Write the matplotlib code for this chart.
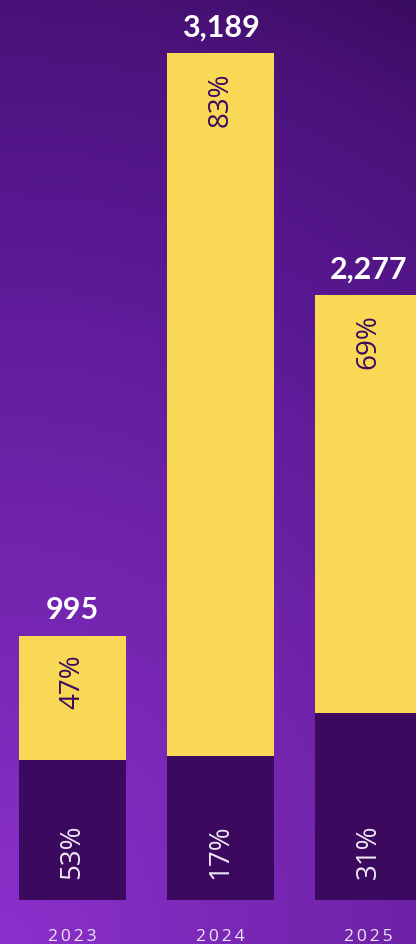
import numpy as np
import matplotlib.pyplot as plt
from matplotlib.colors import LinearSegmentedColormap

years = ["2023", "2024", "2025"]
totals = [995, 3189, 2277]
low_pct = [53, 17, 31]
high_pct = [47, 83, 69]

W, H = 416, 945
fig = plt.figure(figsize=(W / 100, H / 100), dpi=100)

# background gradient, light at bottom-left, dark at top-right
bg = fig.add_axes([0, 0, 1, 1])
xx, yy = np.meshgrid(np.linspace(0, 1, 200), np.linspace(0, 1, 400))
d = np.sqrt((xx * 0.5) ** 2 + yy ** 2)
t = np.clip(d / 1.12, 0, 1)
cmap = LinearSegmentedColormap.from_list(
    "bg", [(0, "#8c30cc"), (0.45, "#6c22a6"), (0.67, "#5a1994"),
           (0.89, "#4a1278"), (1, "#3a0c62")])
bg.imshow(t, cmap=cmap, origin="lower", extent=[0, 1, 0, 1], aspect="auto")
bg.axis("off")

dark = "#3b0a5f"
yellow = "#f8d854"
light = "#efe6f5"
bold_fam = ["Lato", "DejaVu Sans"]
fam = ["Open Sans", "DejaVu Sans"]

ax = fig.add_axes([0, 44 / H, 1, 901 / H])
ax.patch.set_alpha(0)
x = np.arange(len(years))
bw = 0.723
low = np.array(totals) * np.array(low_pct) / 100
high = np.array(totals) * np.array(high_pct) / 100
ax.bar(x, low, width=bw, color=dark)
ax.bar(x, high, width=bw, bottom=low, color=yellow)
ax.set_xlim(-72.5 / 148, (W - 72.5) / 148)
ax.set_ylim(0, 3189 * 901 / 847)
ax.axis("off")

sp = "\u2009"
for i in range(len(years)):
    ax.annotate(f"{totals[i]:,}", (x[i], totals[i]), xytext=(0, 9),
                textcoords="offset points", ha="center", va="bottom",
                fontsize=22, fontweight="bold", color="white", family=bold_fam)
    ax.annotate(f"{high_pct[i]}%", (x[i], totals[i]), xytext=(0, -13),
                textcoords="offset points", ha="center", va="top",
                rotation=90, fontsize=20, color=dark, family=fam)
    ax.annotate(f"{low_pct[i]}%", (x[i], 0), xytext=(0, 16),
                textcoords="offset points", ha="center", va="bottom",
                rotation=90, fontsize=20, color=light, family=fam)
    ax.annotate(sp.join(years[i]), (x[i], 0), xytext=(0, -26),
                textcoords="offset points", ha="center", va="center",
                fontsize=12.5, color=light, family=fam)

fig.savefig("out.png", dpi=100)
